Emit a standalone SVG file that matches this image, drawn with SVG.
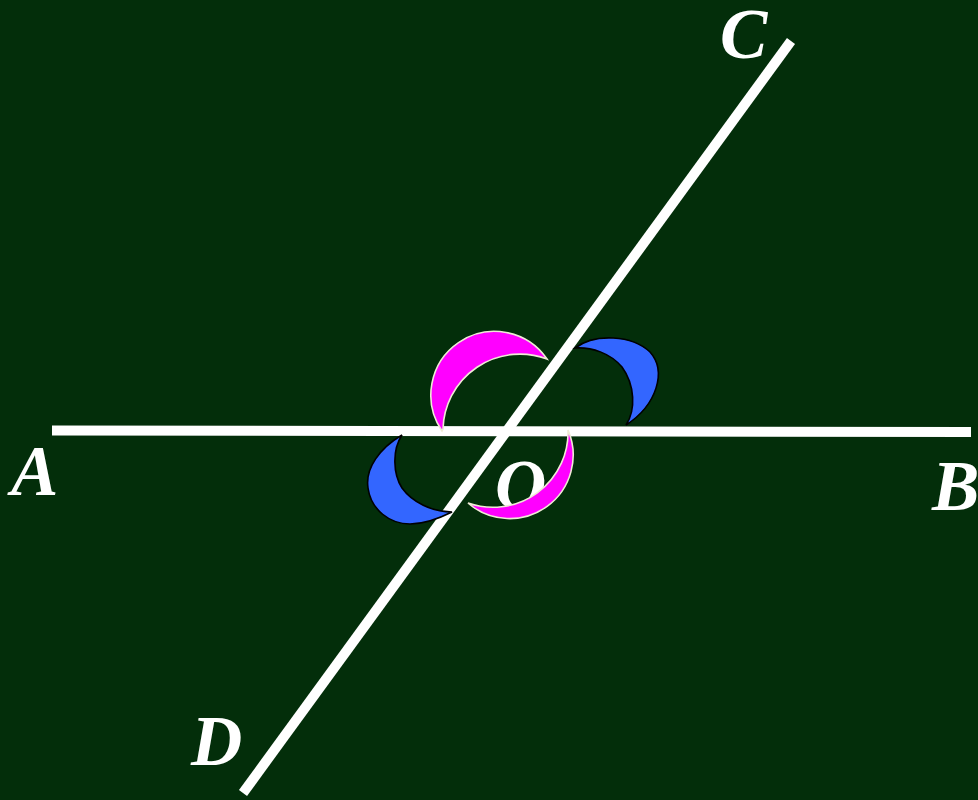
<svg xmlns="http://www.w3.org/2000/svg" width="978" height="800" viewBox="0 0 978 800">
  <style>
    .ln { stroke: #ffffff; stroke-width: 10; fill: none; stroke-linecap: butt; }
    .lbl { font-family: "Liberation Serif", "Times New Roman", Times, serif; font-weight: 700; font-style: italic; font-size: 71px; fill: #ffffff; }
    .mag { fill: #ff00ff; stroke: #efebd6; stroke-width: 1.6; stroke-linejoin: miter; }
    .blu { fill: #3366ff; stroke: #000000; stroke-width: 1.6; stroke-linejoin: miter; }
  </style>
  <rect x="0" y="0" width="978" height="800" fill="#032e0a"/>
  <g id="lines">
    <line id="AB" class="ln" x1="52" y1="430.5" x2="971" y2="432"/>
    <line id="CD" class="ln" x1="791" y1="41" x2="243" y2="793"/>
  </g>
  <g id="labels">
    <text id="label-A" class="lbl" x="11" y="495">A</text>
    <text id="label-B" class="lbl" x="932" y="510">B</text>
    <text id="label-C" class="lbl" x="720" y="58">C</text>
    <text id="label-D" class="lbl" x="191" y="765">D</text>
    <text id="label-O" class="lbl" x="495" y="509">O</text>
  </g>
  <g id="angles">
    <path id="angle-AOC" class="mag" d="M442,431 A63.5,63.5 0 0 1 547,359 A77,77 0 0 0 443,429 Z"/>
    <path id="angle-COB" class="blu" d="M575,348 C595,333 632,335 650,352 C667,371 657,405 626,425 C636,410 635,385 622,367 C610,353 592,347 575,348 Z"/>
    <path id="angle-AOD" class="blu" d="M402,435 C380,448 365,468 368,488 C371,510 390,524 410,524 C425,524 440,518 452,512 C432,512 412,502 402,488 C393,474 392,450 402,435 Z"/>
    <path id="angle-DOB" class="mag" d="M568,430 A63.5,63.5 0 0 1 468,503 A75,75 0 0 0 568,430 Z"/>
  </g>
</svg>
